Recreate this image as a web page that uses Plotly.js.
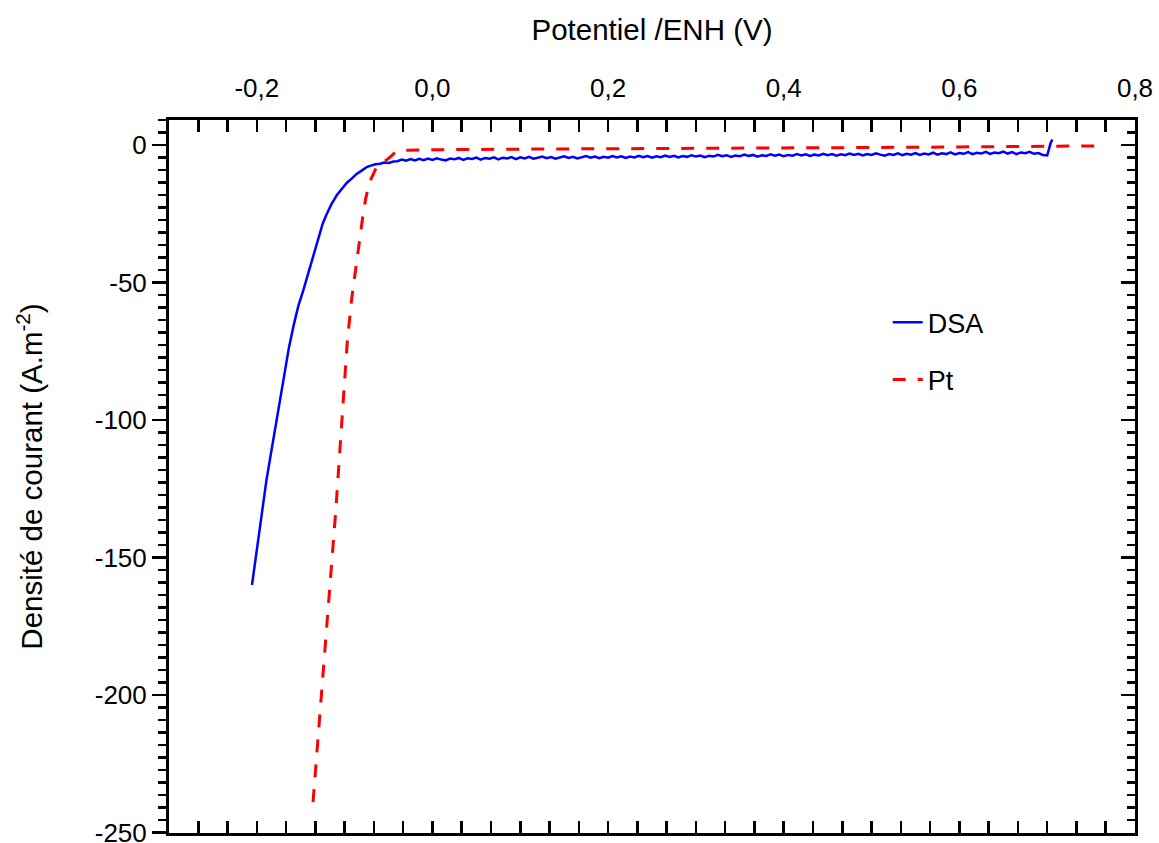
<!DOCTYPE html>
<html>
<head>
<meta charset="utf-8">
<script src="https://cdn.plot.ly/plotly-3.0.1.min.js"></script>
<style>html,body{margin:0;padding:0;background:#fff;}#chart{width:1159px;height:843px;}</style>
</head>
<body>
<div id="chart"></div>
<script>
// ---- Data ----
var dsaX = [-0.2055,-0.203,-0.200,-0.197,-0.1926,-0.189,-0.185,-0.181,-0.177,-0.173,-0.169,-0.166,-0.1634,-0.158,-0.1528,-0.147,-0.1414,-0.136,-0.130,-0.125,-0.1205,-0.115,-0.109,-0.103,-0.0977,-0.092,-0.0863,-0.081,-0.0749,-0.070,-0.065,-0.0596,-0.055,-0.050,-0.0446,
-0.040,-0.035,-0.030,-0.025,-0.020,-0.015,-0.010,-0.005,0.000,0.005,0.010,0.015,0.020,0.025,0.030,0.035,0.040,0.045,0.050,0.055,0.060,0.065,0.070,0.075,0.080,0.085,0.090,0.095,
0.100,0.105,0.110,0.115,0.120,0.125,0.130,0.135,0.140,0.145,0.150,0.155,0.160,0.165,0.170,0.175,0.180,0.185,0.190,0.195,
0.200,0.205,0.210,0.215,0.220,0.225,0.230,0.235,0.240,0.245,0.250,0.255,0.260,0.265,0.270,0.275,0.280,0.285,0.290,0.295,
0.300,0.305,0.310,0.315,0.320,0.325,0.330,0.335,0.340,0.345,0.350,0.355,0.360,0.365,0.370,0.375,0.380,0.385,0.390,0.395,
0.400,0.405,0.410,0.415,0.420,0.425,0.430,0.435,0.440,0.445,0.450,0.455,0.460,0.465,0.470,0.475,0.480,0.485,0.490,0.495,
0.500,0.505,0.510,0.515,0.520,0.525,0.530,0.535,0.540,0.545,0.550,0.555,0.560,0.565,0.570,0.575,0.580,0.585,0.590,0.595,
0.600,0.605,0.610,0.615,0.620,0.625,0.630,0.635,0.640,0.645,0.650,0.655,0.660,0.665,0.670,0.675,0.680,0.685,0.690,0.695,
0.700,0.702,0.704,0.706];
var dsaY = [-160,-154,-146.5,-139,-128.6,-121.8,-114.3,-106.8,-99.2,-91.7,-84.1,-78.5,-73.6,-65.5,-58.6,-52.8,-46.5,-40.0,-33.6,-28.6,-25.2,-21.5,-18.3,-15.9,-13.8,-12.2,-10.5,-9.4,-8.0,-7.5,-7.0,-6.8,-6.4,-6.5,-6.0,
-5.9,-5.3,-5.7,-5.1,-5.6,-5.0,-5.5,-4.9,-5.4,-4.8,-5.3,-5.6,-4.9,-5.2,-4.7,-5.4,-4.8,-5.1,-4.6,-5.3,-4.7,-5.0,-4.5,-5.2,-4.6,-4.9,-4.4,-5.1,
-4.5,-4.9,-4.3,-5.0,-4.6,-4.2,-4.8,-4.4,-5.0,-4.5,-4.1,-4.7,-4.3,-4.9,-4.4,-4.0,-4.6,-4.2,-4.8,-4.3,
-4.6,-4.0,-4.5,-4.1,-4.7,-4.2,-4.5,-3.9,-4.4,-4.0,-4.6,-4.1,-4.4,-3.8,-4.3,-3.9,-4.5,-4.0,-4.3,-3.7,
-4.2,-3.8,-4.4,-3.9,-4.2,-3.6,-4.1,-3.7,-4.3,-3.8,-4.1,-3.5,-4.0,-3.6,-4.2,-3.7,-4.0,-3.4,-3.9,-3.5,
-4.1,-3.6,-3.9,-3.3,-3.8,-3.4,-4.0,-3.5,-3.8,-3.2,-3.7,-3.3,-3.9,-3.4,-3.7,-3.1,-3.6,-3.2,-3.8,-3.3,
-3.6,-3.0,-3.5,-3.9,-3.3,-3.6,-3.0,-3.7,-3.2,-3.5,-2.9,-3.6,-3.1,-3.4,-2.8,-3.5,-3.0,-3.3,-2.7,-3.4,
-2.9,-3.2,-2.6,-3.3,-2.8,-3.1,-2.5,-3.2,-2.7,-3.0,-2.4,-3.1,-2.6,-3.3,-2.7,-3.0,-2.5,-3.2,-2.9,-3.6,
-3.8,-1.0,0.8,2.0];

var ptX = [-0.1360,-0.1300,-0.1250,-0.1200,-0.1150,-0.1102,-0.1040,-0.0970,-0.0920,-0.0863,-0.0820,-0.0788,-0.0760,-0.0730,-0.0700,-0.0674,-0.0645,-0.0617,-0.0570,-0.0520,-0.0470,-0.0415,-0.0350,-0.0200,0.0000,0.1000,0.2000,0.3000,0.4000,0.5000,0.6000,0.7000,0.7600];
var ptY = [-239,-215,-194,-174,-154,-133.4,-104.4,-71.6,-56,-41.7,-31,-24.7,-19.5,-15.1,-12.4,-10.3,-8.6,-7.2,-6.2,-5.4,-4.0,-2.4,-1.9,-1.8,-1.7,-1.5,-1.4,-1.3,-1.1,-0.9,-0.7,-0.4,-0.3];

var seriesNames = ['DSA', 'Pt'];
var xTickVals = [-0.2, 0.0, 0.2, 0.4, 0.6, 0.8];
var xTickText = ['-0,2', '0,0', '0,2', '0,4', '0,6', '0,8'];
var yTickVals = [0, -50, -100, -150, -200, -250];
var yTickText = ['0', '-50', '-100', '-150', '-200', '-250'];
var xTitle = 'Potentiel /ENH (V)';
var yTitle = 'Densité de courant (A.m<sup>-2</sup>)';

// ---- Plot ----
var FONT = 'Liberation Sans, Arial, sans-serif';
var traces = [
  {x: dsaX, y: dsaY, name: seriesNames[0], type: 'scatter', mode: 'lines',
   line: {color: '#0000ff', width: 2.5}, legendgroup: 'a'},
  {x: ptX, y: ptY, name: seriesNames[1], type: 'scatter', mode: 'lines',
   line: {color: '#ff0000', width: 3, dash: '13px,12px'}, legendgroup: 'b'},
  {x: [], y: [], yaxis: 'y2', showlegend: false, hoverinfo: 'skip', type: 'scatter', mode: 'lines'}
];

var yRange = [-250.2, 9.1];
var layout = {
  width: 1159, height: 843,
  margin: {l: 169, r: 24, t: 120, b: 10},
  paper_bgcolor: '#ffffff', plot_bgcolor: '#ffffff',
  font: {family: FONT, color: '#000000', size: 26},
  showlegend: true,
  legend: {x: 0.744, y: 0.750, xanchor: 'left', yanchor: 'top',
           font: {family: FONT, size: 27, color: '#000'},
           bgcolor: 'rgba(0,0,0,0)', traceorder: 'grouped', tracegroupgap: 19},
  xaxis: {
    range: [-0.3, 0.8], side: 'top', showgrid: false, zeroline: false,
    showline: true, linewidth: 3, linecolor: '#000', mirror: 'allticks',
    ticks: 'inside', ticklen: 12, tickwidth: 2.5, tickcolor: '#000',
    tickmode: 'array', tickvals: xTickVals, ticktext: xTickText,
    ticklabelstandoff: 10, ticklabeloverflow: 'allow',
    tickfont: {family: FONT, size: 26, color: '#000'},
    minor: {tick0: 0, dtick: 0.2 / 6, ticks: 'inside', ticklen: 7, tickwidth: 2.5, tickcolor: '#000', showgrid: false},
    title: {text: xTitle, font: {family: FONT, size: 29.5, color: '#000'}, standoff: 24}
  },
  yaxis: {
    range: yRange, showgrid: false, zeroline: false,
    showline: true, linewidth: 3, linecolor: '#000', mirror: true,
    ticks: 'outside', ticklen: 14, tickwidth: 2.5, tickcolor: '#000',
    tickmode: 'array', tickvals: yTickVals, ticktext: yTickText,
    ticklabeloverflow: 'allow',
    tickfont: {family: FONT, size: 26, color: '#000'},
    minor: {tick0: 0, dtick: 50 / 11, ticks: 'outside', ticklen: 8, tickwidth: 2.5, tickcolor: '#000', showgrid: false},
    title: {text: yTitle, font: {family: FONT, size: 29.5, color: '#000'}, standoff: 44}
  },
  yaxis2: {
    overlaying: 'y', side: 'right', range: yRange, showgrid: false, zeroline: false,
    showline: false, showticklabels: false,
    ticks: 'inside', ticklen: 14, tickwidth: 2.5, tickcolor: '#000',
    tickmode: 'array', tickvals: yTickVals,
    minor: {tick0: 0, dtick: 50 / 11, ticks: 'inside', ticklen: 8, tickwidth: 2.5, tickcolor: '#000', showgrid: false}
  }
};

Plotly.newPlot('chart', traces, layout, {displayModeBar: false, staticPlot: true});
</script>
</body>
</html>
